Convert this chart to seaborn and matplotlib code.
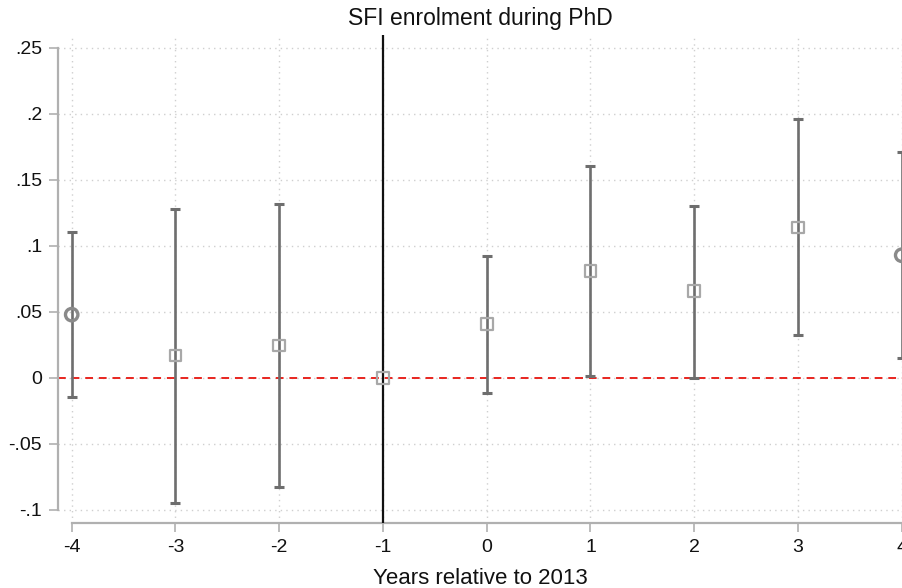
import matplotlib
matplotlib.use("Agg")
import matplotlib.pyplot as plt
import seaborn as sns
import pandas as pd

# Event-study estimates: years relative to 2013
years = [-4, -3, -2, -1, 0, 1, 2, 3, 4]
coef = [0.048, 0.017, 0.0245, 0.0, 0.041, 0.081, 0.066, 0.114, 0.093]
ci_low = [-0.0144, -0.0947, -0.0826, 0.0, -0.0114, 0.0013, 0.0, 0.0326, 0.0155]
ci_high = [0.1104, 0.1278, 0.1316, 0.0, 0.0922, 0.1604, 0.1306, 0.196, 0.1712]
kind = ["end", "mid", "mid", "mid", "mid", "mid", "mid", "mid", "end"]

y_ticks = [-0.1, -0.05, 0, 0.05, 0.1, 0.15, 0.2, 0.25]
y_ticklabels = ["-.1", "-.05", "0", ".05", ".1", ".15", ".2", ".25"]
x_ticks = years

sns.set_theme(style="white")
plt.rcParams["font.family"] = ["Liberation Sans", "DejaVu Sans"]

df = pd.DataFrame({"year": years, "coef": coef, "lo": ci_low, "hi": ci_high, "kind": kind})

fig = plt.figure(figsize=(9.02, 5.88), dpi=100)
ax = fig.add_axes([58 / 902, 65 / 588, 844 / 902, 488 / 588])

# dotted grid at tick positions
for xv in x_ticks:
    ax.axvline(xv, color="#cfcfcf", lw=1.0, ls=(0, (1, 3)), zorder=0)
for yv in y_ticks:
    ax.axhline(yv, color="#cfcfcf", lw=1.0, ls=(0, (1, 3)), zorder=0)

# reference lines
ax.axhline(0, color="#e8251f", lw=1.4, ls=(0, (4, 3)), zorder=1)
ax.axvline(-1, color="#111111", lw=1.6, zorder=4)

# confidence intervals
ci = df[df["hi"] > df["lo"]]
ax.errorbar(ci["year"], ci["coef"],
            yerr=[ci["coef"] - ci["lo"], ci["hi"] - ci["coef"]],
            fmt="none", ecolor="#6e6e6e", elinewidth=1.9, capsize=3.4, capthick=2.2,
            zorder=3)

# point estimates
sns.scatterplot(data=df[df["kind"] == "mid"], x="year", y="coef", marker="s",
                s=70, facecolor="none", edgecolor="#a8a8a8", linewidth=1.6,
                ax=ax, zorder=5, legend=False)
sns.scatterplot(data=df[df["kind"] == "end"], x="year", y="coef", marker="o",
                s=80, facecolor="none", edgecolor="#8a8a8a", linewidth=2.4,
                ax=ax, zorder=5, legend=False, clip_on=False)

ax.set_xlim(-4 - 13.7 / 103.75, 4 + 0.3 / 103.75)
ax.set_ylim(-0.1 - 13 / 1320, 0.25 + 13 / 1320)

ax.set_xticks(x_ticks)
ax.set_xticklabels([str(v) for v in x_ticks])
ax.set_yticks(y_ticks)
ax.set_yticklabels(y_ticklabels)

for side in ["top", "right"]:
    ax.spines[side].set_visible(False)
ax.spines["left"].set_bounds(-0.1, 0.25)
ax.spines["bottom"].set_bounds(-4, 4)
for side in ["left", "bottom"]:
    ax.spines[side].set_color("#b0b0b0")
    ax.spines[side].set_linewidth(1.6)

ax.tick_params(axis="both", which="major", direction="out", length=6.5, width=1.2,
               color="#b0b0b0", labelsize=14, labelcolor="#111111", pad=5,
               bottom=True, left=True)

ax.set_xlabel("Years relative to 2013", fontsize=16, color="#111111", labelpad=9)
ax.set_ylabel("")
ax.set_title("SFI enrolment during PhD", fontsize=16.5, color="#111111", pad=7)

fig.savefig("out.png", dpi=100)
